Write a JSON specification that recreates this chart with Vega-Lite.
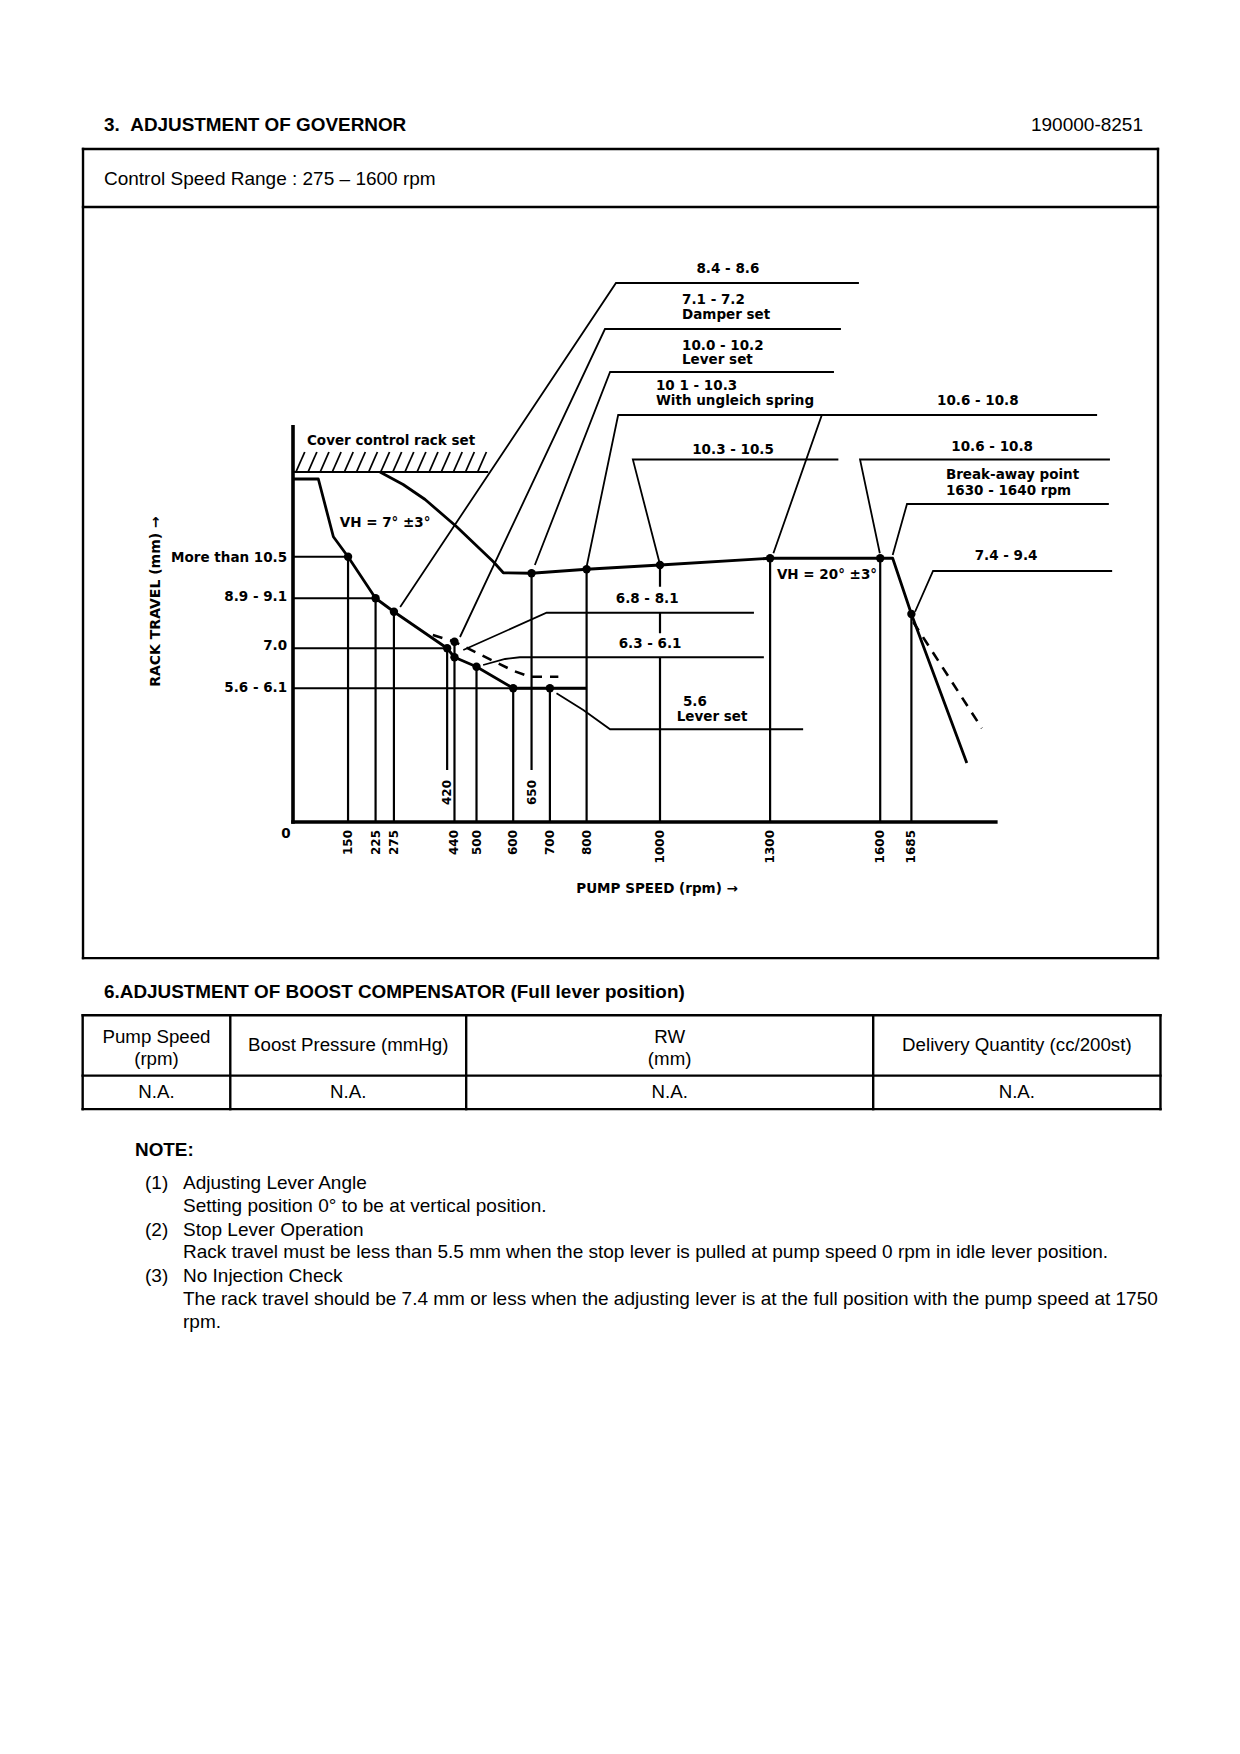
{
  "$schema": "https://vega.github.io/schema/vega-lite/v6.json",
  "width": 1240,
  "height": 1754,
  "autosize": {"type": "fit", "contains": "padding"},
  "padding": 0,
  "background": "white",
  "config": {"view": {"stroke": null}},
  "datasets": {
    "pageLines": [
      {"x": 14.06, "y": 25.23, "x2": 196.11, "y2": 25.23},
      {"x": 14.06, "y": 35.06, "x2": 196.11, "y2": 35.06},
      {"x": 14.06, "y": 162.24, "x2": 196.11, "y2": 162.24},
      {"x": 14.06, "y": 25.23, "x2": 14.06, "y2": 162.24},
      {"x": 196.11, "y": 25.23, "x2": 196.11, "y2": 162.24},
      {"x": 14.0, "y": 171.92, "x2": 196.53, "y2": 171.92},
      {"x": 14.0, "y": 182.14, "x2": 196.53, "y2": 182.14},
      {"x": 14.0, "y": 187.81, "x2": 196.53, "y2": 187.81},
      {"x": 14.0, "y": 171.92, "x2": 14.0, "y2": 187.81},
      {"x": 39.0, "y": 171.92, "x2": 39.0, "y2": 187.81},
      {"x": 78.95, "y": 171.92, "x2": 78.95, "y2": 187.81},
      {"x": 147.88, "y": 171.92, "x2": 147.88, "y2": 187.81},
      {"x": 196.53, "y": 171.92, "x2": 196.53, "y2": 187.81}
    ],
    "pageBold": [
      {"x": 17.61, "y": 21.17, "t": "3.\u00a0\u00a0ADJUSTMENT OF GOVERNOR"},
      {"x": 17.61, "y": 168.0, "t": "6.ADJUSTMENT OF BOOST COMPENSATOR (Full lever position)"},
      {"x": 22.86, "y": 194.75, "t": "NOTE:"}
    ],
    "pageRight": [
      {"x": 193.57, "y": 21.17, "t": "190000-8251"}
    ],
    "pageLeft": [
      {"x": 17.61, "y": 30.31, "t": "Control Speed Range : 275 – 1600 rpm"},
      {"x": 24.56, "y": 200.34, "t": "(1)"},
      {"x": 30.99, "y": 200.34, "t": "Adjusting Lever Angle"},
      {"x": 30.99, "y": 204.29, "t": "Setting position 0° to be at vertical position."},
      {"x": 24.56, "y": 208.26, "t": "(2)"},
      {"x": 30.99, "y": 208.26, "t": "Stop Lever Operation"},
      {"x": 30.99, "y": 212.06, "t": "Rack travel must be less than 5.5 mm when the stop lever is pulled at pump speed 0 rpm in idle lever position."},
      {"x": 24.56, "y": 216.02, "t": "(3)"},
      {"x": 30.99, "y": 216.02, "t": "No Injection Check"},
      {"x": 30.99, "y": 220.0, "t": "The rack travel should be 7.4 mm or less when the adjusting lever is at the full position with the pump speed at 1750"},
      {"x": 30.99, "y": 223.8, "t": "rpm."}
    ],
    "pageCenter": [
      {"x": 26.5, "y": 175.53, "t": "Pump Speed"},
      {"x": 26.5, "y": 179.34, "t": "(rpm)"},
      {"x": 58.98, "y": 176.97, "t": "Boost Pressure (mmHg)"},
      {"x": 113.41, "y": 175.53, "t": "RW"},
      {"x": 113.41, "y": 179.34, "t": "(mm)"},
      {"x": 172.21, "y": 176.97, "t": "Delivery Quantity (cc/200st)"},
      {"x": 26.5, "y": 184.98, "t": "N.A."},
      {"x": 58.98, "y": 184.98, "t": "N.A."},
      {"x": 113.41, "y": 184.98, "t": "N.A."},
      {"x": 172.21, "y": 184.98, "t": "N.A."}
    ],
    "curves": [
      {"id": "A", "i": 1, "rpm": 0, "mm": 13.72},
      {"id": "A", "i": 2, "rpm": 69, "mm": 13.72},
      {"id": "A", "i": 3, "rpm": 110, "mm": 11.41},
      {"id": "A", "i": 4, "rpm": 150, "mm": 10.61},
      {"id": "A", "i": 5, "rpm": 225, "mm": 8.95},
      {"id": "A", "i": 6, "rpm": 275, "mm": 8.41},
      {"id": "A", "i": 7, "rpm": 420, "mm": 6.95},
      {"id": "A", "i": 8, "rpm": 440, "mm": 6.59},
      {"id": "A", "i": 9, "rpm": 500, "mm": 6.21},
      {"id": "A", "i": 10, "rpm": 600, "mm": 5.35},
      {"id": "A", "i": 11, "rpm": 700, "mm": 5.35},
      {"id": "A", "i": 12, "rpm": 800, "mm": 5.35},
      {"id": "B", "i": 1, "rpm": 237, "mm": 14.0},
      {"id": "B", "i": 2, "rpm": 300, "mm": 13.5},
      {"id": "B", "i": 3, "rpm": 360, "mm": 12.9},
      {"id": "B", "i": 4, "rpm": 446, "mm": 11.81},
      {"id": "B", "i": 5, "rpm": 546, "mm": 10.41},
      {"id": "B", "i": 6, "rpm": 573, "mm": 9.97},
      {"id": "B", "i": 7, "rpm": 650, "mm": 9.95},
      {"id": "B", "i": 8, "rpm": 800, "mm": 10.11},
      {"id": "B", "i": 9, "rpm": 1000, "mm": 10.28},
      {"id": "B", "i": 10, "rpm": 1300, "mm": 10.55},
      {"id": "B", "i": 11, "rpm": 1600, "mm": 10.55},
      {"id": "B", "i": 12, "rpm": 1634, "mm": 10.55},
      {"id": "B", "i": 13, "rpm": 1685, "mm": 8.32},
      {"id": "B", "i": 14, "rpm": 1836, "mm": 2.36}
    ],
    "dashed": [
      {"id": "D1", "i": 1, "rpm": 381, "mm": 7.48},
      {"id": "D1", "i": 2, "rpm": 440, "mm": 7.21},
      {"id": "D1", "i": 3, "rpm": 600, "mm": 6.05},
      {"id": "D1", "i": 4, "rpm": 646, "mm": 5.81},
      {"id": "D1", "i": 5, "rpm": 723, "mm": 5.81},
      {"id": "D2", "i": 1, "rpm": 1690, "mm": 8.0},
      {"id": "D2", "i": 2, "rpm": 1877, "mm": 3.75}
    ],
    "leaders": [
      {"id": "L1", "i": 1, "rpm": 292, "mm": 8.6},
      {"id": "L1", "i": 2, "rpm": 880, "mm": 21.56},
      {"id": "L1", "i": 3, "rpm": 1542, "mm": 21.56},
      {"id": "L2", "i": 1, "rpm": 455, "mm": 7.4},
      {"id": "L2", "i": 2, "rpm": 850, "mm": 19.72},
      {"id": "L2", "i": 3, "rpm": 1493, "mm": 19.72},
      {"id": "L3", "i": 1, "rpm": 659, "mm": 10.28},
      {"id": "L3", "i": 2, "rpm": 864, "mm": 18.0},
      {"id": "L3", "i": 3, "rpm": 1474, "mm": 18.0},
      {"id": "L4", "i": 1, "rpm": 800, "mm": 10.21},
      {"id": "L4", "i": 2, "rpm": 886, "mm": 16.28},
      {"id": "L4", "i": 3, "rpm": 1496, "mm": 16.28},
      {"id": "L5", "i": 1, "rpm": 998, "mm": 10.41},
      {"id": "L5", "i": 2, "rpm": 926, "mm": 14.5},
      {"id": "L5", "i": 3, "rpm": 1486, "mm": 14.5},
      {"id": "L6", "i": 1, "rpm": 1309, "mm": 10.75},
      {"id": "L6", "i": 2, "rpm": 1441, "mm": 16.28},
      {"id": "L6", "i": 3, "rpm": 2191, "mm": 16.28},
      {"id": "L7", "i": 1, "rpm": 1599, "mm": 10.75},
      {"id": "L7", "i": 2, "rpm": 1545, "mm": 14.5},
      {"id": "L7", "i": 3, "rpm": 2226, "mm": 14.5},
      {"id": "L8", "i": 1, "rpm": 1634, "mm": 10.68},
      {"id": "L8", "i": 2, "rpm": 1673, "mm": 12.72},
      {"id": "L8", "i": 3, "rpm": 2223, "mm": 12.72},
      {"id": "L9", "i": 1, "rpm": 1695, "mm": 8.41},
      {"id": "L9", "i": 2, "rpm": 1744, "mm": 10.04},
      {"id": "L9", "i": 3, "rpm": 2232, "mm": 10.04},
      {"id": "L10", "i": 1, "rpm": 464, "mm": 6.88},
      {"id": "L10", "i": 2, "rpm": 691, "mm": 8.37},
      {"id": "L10", "i": 3, "rpm": 1256, "mm": 8.37},
      {"id": "L11", "i": 1, "rpm": 518, "mm": 6.28},
      {"id": "L11", "i": 2, "rpm": 578, "mm": 6.52},
      {"id": "L11", "i": 3, "rpm": 618, "mm": 6.59},
      {"id": "L11", "i": 4, "rpm": 1283, "mm": 6.59},
      {"id": "L12", "i": 1, "rpm": 718, "mm": 5.15},
      {"id": "L12", "i": 2, "rpm": 791, "mm": 4.48},
      {"id": "L12", "i": 3, "rpm": 864, "mm": 3.71},
      {"id": "L12", "i": 4, "rpm": 1390, "mm": 3.71}
    ],
    "guides": [
      {"rpm": 150, "mm": 10.61, "rpm2": 150, "mm2": 0},
      {"rpm": 225, "mm": 8.95, "rpm2": 225, "mm2": 0},
      {"rpm": 275, "mm": 8.41, "rpm2": 275, "mm2": 0},
      {"rpm": 420, "mm": 6.95, "rpm2": 420, "mm2": 2.08},
      {"rpm": 440, "mm": 7.21, "rpm2": 440, "mm2": 0},
      {"rpm": 500, "mm": 6.21, "rpm2": 500, "mm2": 0},
      {"rpm": 600, "mm": 5.35, "rpm2": 600, "mm2": 0},
      {"rpm": 650, "mm": 9.95, "rpm2": 650, "mm2": 2.08},
      {"rpm": 700, "mm": 5.35, "rpm2": 700, "mm2": 0},
      {"rpm": 800, "mm": 10.11, "rpm2": 800, "mm2": 0},
      {"rpm": 1000, "mm": 10.28, "rpm2": 1000, "mm2": 9.41},
      {"rpm": 1000, "mm": 8.37, "rpm2": 1000, "mm2": 7.55},
      {"rpm": 1000, "mm": 6.59, "rpm2": 1000, "mm2": 0},
      {"rpm": 1300, "mm": 10.55, "rpm2": 1300, "mm2": 0},
      {"rpm": 1600, "mm": 10.55, "rpm2": 1600, "mm2": 0},
      {"rpm": 1685, "mm": 8.32, "rpm2": 1685, "mm2": 0},
      {"rpm": 0, "mm": 10.61, "rpm2": 150, "mm2": 10.61},
      {"rpm": 0, "mm": 8.95, "rpm2": 225, "mm2": 8.95},
      {"rpm": 0, "mm": 6.95, "rpm2": 420, "mm2": 6.95},
      {"rpm": 0, "mm": 5.35, "rpm2": 800, "mm2": 5.35},
      {"rpm": 0, "mm": 14.0, "rpm2": 532, "mm2": 14.0}
    ],
    "axes": [
      {"rpm": 0, "mm": 0, "rpm2": 0, "mm2": 15.81},
      {"rpm": 0, "mm": 0, "rpm2": 1915, "mm2": 0}
    ],
    "hatch": [
      {"rpm": 8, "mm": 14.0, "rpm2": 32, "mm2": 14.8},
      {"rpm": 41, "mm": 14.0, "rpm2": 65, "mm2": 14.8},
      {"rpm": 74, "mm": 14.0, "rpm2": 98, "mm2": 14.8},
      {"rpm": 107, "mm": 14.0, "rpm2": 131, "mm2": 14.8},
      {"rpm": 140, "mm": 14.0, "rpm2": 164, "mm2": 14.8},
      {"rpm": 173, "mm": 14.0, "rpm2": 197, "mm2": 14.8},
      {"rpm": 206, "mm": 14.0, "rpm2": 230, "mm2": 14.8},
      {"rpm": 239, "mm": 14.0, "rpm2": 263, "mm2": 14.8},
      {"rpm": 272, "mm": 14.0, "rpm2": 296, "mm2": 14.8},
      {"rpm": 305, "mm": 14.0, "rpm2": 329, "mm2": 14.8},
      {"rpm": 338, "mm": 14.0, "rpm2": 362, "mm2": 14.8},
      {"rpm": 371, "mm": 14.0, "rpm2": 395, "mm2": 14.8},
      {"rpm": 404, "mm": 14.0, "rpm2": 428, "mm2": 14.8},
      {"rpm": 437, "mm": 14.0, "rpm2": 461, "mm2": 14.8},
      {"rpm": 470, "mm": 14.0, "rpm2": 494, "mm2": 14.8},
      {"rpm": 503, "mm": 14.0, "rpm2": 527, "mm2": 14.8}
    ],
    "dots": [
      {"rpm": 150, "mm": 10.61}, {"rpm": 225, "mm": 8.95}, {"rpm": 275, "mm": 8.41},
      {"rpm": 420, "mm": 6.95}, {"rpm": 440, "mm": 6.59}, {"rpm": 440, "mm": 7.21},
      {"rpm": 500, "mm": 6.21}, {"rpm": 600, "mm": 5.35}, {"rpm": 700, "mm": 5.35},
      {"rpm": 650, "mm": 9.95}, {"rpm": 800, "mm": 10.11}, {"rpm": 1000, "mm": 10.28},
      {"rpm": 1300, "mm": 10.55}, {"rpm": 1600, "mm": 10.55}, {"rpm": 1685, "mm": 8.32}
    ],
    "labelsLeft": [
      {"rpm": 1060, "mm": 20.88, "t": "7.1 - 7.2"},
      {"rpm": 1060, "mm": 20.28, "t": "Damper set"},
      {"rpm": 1060, "mm": 19.06, "t": "10.0 - 10.2"},
      {"rpm": 1060, "mm": 18.48, "t": "Lever set"},
      {"rpm": 989, "mm": 17.44, "t": "10 1 - 10.3"},
      {"rpm": 989, "mm": 16.84, "t": "With ungleich spring"},
      {"rpm": 1779, "mm": 13.88, "t": "Break-away point"},
      {"rpm": 1779, "mm": 13.24, "t": "1630 - 1640 rpm"},
      {"rpm": 38, "mm": 15.26, "t": "Cover control rack set"}
    ],
    "labelsCenter": [
      {"rpm": 1185, "mm": 22.12, "t": "8.4 - 8.6"},
      {"rpm": 1199, "mm": 14.9, "t": "10.3 - 10.5"},
      {"rpm": 1866, "mm": 16.84, "t": "10.6 - 10.8"},
      {"rpm": 1905, "mm": 15.0, "t": "10.6 - 10.8"},
      {"rpm": 1943, "mm": 10.64, "t": "7.4 - 9.4"},
      {"rpm": 965, "mm": 8.92, "t": "6.8 - 8.1"},
      {"rpm": 973, "mm": 7.12, "t": "6.3 - 6.1"},
      {"rpm": 1095, "mm": 4.8, "t": "5.6"},
      {"rpm": 1142, "mm": 4.2, "t": "Lever set"},
      {"rpm": 251, "mm": 11.96, "t": "VH = 7° ±3°"},
      {"rpm": 1455, "mm": 9.88, "t": "VH = 20° ±3°"},
      {"rpm": 992, "mm": -2.68, "t": "PUMP SPEED (rpm) →"},
      {"rpm": -19, "mm": -0.48, "t": "0"}
    ],
    "labelsRight": [
      {"rpm": -16, "mm": 10.56, "t": "More than 10.5"},
      {"rpm": -16, "mm": 9.0, "t": "8.9 - 9.1"},
      {"rpm": -16, "mm": 7.04, "t": "7.0"},
      {"rpm": -16, "mm": 5.38, "t": "5.6 - 6.1"}
    ],
    "ticks": [
      {"rpm": 150, "mm": -0.32, "t": "150"},
      {"rpm": 225, "mm": -0.32, "t": "225"},
      {"rpm": 275, "mm": -0.32, "t": "275"},
      {"rpm": 440, "mm": -0.32, "t": "440"},
      {"rpm": 500, "mm": -0.32, "t": "500"},
      {"rpm": 600, "mm": -0.32, "t": "600"},
      {"rpm": 700, "mm": -0.32, "t": "700"},
      {"rpm": 800, "mm": -0.32, "t": "800"},
      {"rpm": 1000, "mm": -0.32, "t": "1000"},
      {"rpm": 1300, "mm": -0.32, "t": "1300"},
      {"rpm": 1600, "mm": -0.32, "t": "1600"},
      {"rpm": 1685, "mm": -0.32, "t": "1685"},
      {"rpm": 420, "mm": 1.68, "t": "420"},
      {"rpm": 650, "mm": 1.68, "t": "650"}
    ],
    "yTitle": [
      {"rpm": -372, "mm": 8.82, "t": "RACK TRAVEL (mm) →"}
    ]
  },
  "layer": [
    {
      "encoding": {
        "x": {"field": "x", "type": "quantitative", "scale": {"domain": [0, 210], "nice": false, "zero": false}, "axis": null},
        "y": {"field": "y", "type": "quantitative", "scale": {"domain": [0, 297], "nice": false, "zero": false, "reverse": true}, "axis": null}
      },
      "layer": [
        {"data": {"name": "pageLines"}, "mark": {"type": "rule", "color": "black", "strokeWidth": 2.4, "strokeCap": "square"},
         "encoding": {"x2": {"field": "x2"}, "y2": {"field": "y2"}}},
        {"data": {"name": "pageBold"}, "mark": {"type": "text", "font": "Liberation Sans", "fontSize": 18.9, "fontWeight": "bold", "align": "left", "baseline": "middle", "color": "black"},
         "encoding": {"text": {"field": "t"}}},
        {"data": {"name": "pageRight"}, "mark": {"type": "text", "font": "Liberation Sans", "fontSize": 19, "align": "right", "baseline": "middle", "color": "black"},
         "encoding": {"text": {"field": "t"}}},
        {"data": {"name": "pageLeft"}, "mark": {"type": "text", "font": "Liberation Sans", "fontSize": 19, "align": "left", "baseline": "middle", "color": "black"},
         "encoding": {"text": {"field": "t"}}},
        {"data": {"name": "pageCenter"}, "mark": {"type": "text", "font": "Liberation Sans", "fontSize": 18.7, "align": "center", "baseline": "middle", "color": "black"},
         "encoding": {"text": {"field": "t"}}}
      ]
    },
    {
      "encoding": {
        "x": {"field": "rpm", "type": "quantitative", "scale": {"domain": [-798.37, 2580.38], "nice": false, "zero": false}, "axis": null},
        "y": {"field": "mm", "type": "quantitative", "scale": {"domain": [-37.28, 32.88], "nice": false, "zero": false}, "axis": null}
      },
      "layer": [
        {"data": {"name": "hatch"}, "mark": {"type": "rule", "color": "black", "strokeWidth": 1.8},
         "encoding": {"x2": {"field": "rpm2"}, "y2": {"field": "mm2"}}},
        {"data": {"name": "guides"}, "mark": {"type": "rule", "color": "black", "strokeWidth": 2.2},
         "encoding": {"x2": {"field": "rpm2"}, "y2": {"field": "mm2"}}},
        {"data": {"name": "axes"}, "mark": {"type": "rule", "color": "black", "strokeWidth": 3.6, "strokeCap": "square"},
         "encoding": {"x2": {"field": "rpm2"}, "y2": {"field": "mm2"}}},
        {"data": {"name": "leaders"}, "mark": {"type": "line", "color": "black", "strokeWidth": 1.8},
         "encoding": {"detail": {"field": "id", "type": "nominal"}, "order": {"field": "i", "type": "quantitative"}}},
        {"data": {"name": "dashed"}, "mark": {"type": "line", "color": "black", "strokeWidth": 2.6, "strokeDash": [10, 8]},
         "encoding": {"detail": {"field": "id", "type": "nominal"}, "order": {"field": "i", "type": "quantitative"}}},
        {"data": {"name": "curves"}, "mark": {"type": "line", "color": "black", "strokeWidth": 2.8, "strokeJoin": "round"},
         "encoding": {"detail": {"field": "id", "type": "nominal"}, "order": {"field": "i", "type": "quantitative"}}},
        {"data": {"name": "dots"}, "mark": {"type": "point", "filled": true, "color": "black", "opacity": 1, "size": 70}},
        {"data": {"name": "labelsLeft"}, "mark": {"type": "text", "font": "DejaVu Sans", "fontSize": 13.5, "fontWeight": "bold", "align": "left", "baseline": "middle", "color": "black"},
         "encoding": {"text": {"field": "t"}}},
        {"data": {"name": "labelsCenter"}, "mark": {"type": "text", "font": "DejaVu Sans", "fontSize": 13.5, "fontWeight": "bold", "align": "center", "baseline": "middle", "color": "black"},
         "encoding": {"text": {"field": "t"}}},
        {"data": {"name": "labelsRight"}, "mark": {"type": "text", "font": "DejaVu Sans", "fontSize": 13.5, "fontWeight": "bold", "align": "right", "baseline": "middle", "color": "black"},
         "encoding": {"text": {"field": "t"}}},
        {"data": {"name": "ticks"}, "mark": {"type": "text", "font": "DejaVu Sans", "fontSize": 12, "fontWeight": "bold", "align": "right", "baseline": "middle", "angle": 270, "color": "black"},
         "encoding": {"text": {"field": "t"}}},
        {"data": {"name": "yTitle"}, "mark": {"type": "text", "font": "DejaVu Sans", "fontSize": 14, "fontWeight": "bold", "align": "center", "baseline": "middle", "angle": 270, "color": "black"},
         "encoding": {"text": {"field": "t"}}}
      ]
    }
  ],
  "resolve": {"scale": {"x": "independent", "y": "independent"}}
}
